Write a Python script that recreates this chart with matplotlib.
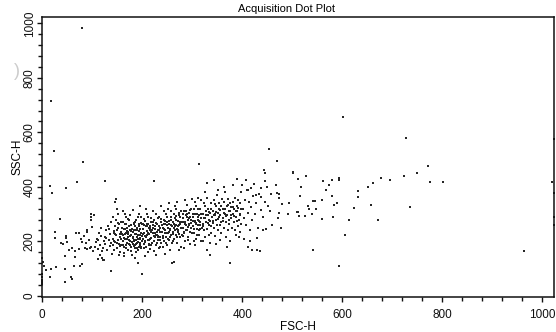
import matplotlib
matplotlib.use('Agg')
import matplotlib.pyplot as plt
from matplotlib.ticker import MultipleLocator

plt.rcParams['font.family'] = ['Liberation Sans', 'DejaVu Sans']

# (FSC-H, SSC-H) events
cluster_pts = [
    (102, 165), (105, 180), (108, 196), (110, 210), (112, 172), (114, 230), (116, 188), (118, 250),
    (104, 298), (119, 140), (111, 205), (117, 220),
    (121, 175), (123, 200), (125, 215), (126, 190), (128, 240), (130, 168), (131, 258), (133, 205),
    (135, 182), (136, 228), (138, 272), (139, 155), (122, 132), (127, 212), (134, 246), (137, 195),
    (141, 185), (142, 210), (143, 232), (144, 168), (145, 255), (146, 198), (147, 280), (148, 222),
    (149, 176), (150, 240), (151, 205), (152, 300), (153, 190), (154, 262), (155, 215), (156, 160),
    (157, 235), (158, 185), (159, 250), (146, 345), (150, 318), (153, 150), (158, 270), (142, 290),
    (155, 228), (147, 355),
    (161, 200), (162, 225), (163, 245), (164, 180), (165, 262), (166, 210), (167, 290), (168, 232),
    (169, 195), (170, 250), (171, 215), (172, 170), (173, 278), (174, 205), (175, 240), (176, 185),
    (177, 260), (178, 222), (179, 198), (161, 270), (163, 158), (165, 300), (167, 175), (169, 238),
    (171, 282), (173, 192), (175, 218), (177, 165), (179, 245), (162, 310), (166, 228), (170, 208),
    (174, 255), (178, 178), (172, 235), (176, 298), (164, 145), (168, 265),
    (181, 190), (182, 215), (183, 240), (184, 262), (185, 175), (186, 228), (187, 205), (188, 280),
    (189, 250), (190, 195), (191, 222), (192, 168), (193, 300), (194, 238), (195, 210), (196, 185),
    (197, 268), (198, 232), (199, 200), (181, 235), (183, 182), (185, 255), (187, 160), (189, 215),
    (191, 290), (193, 225), (195, 245), (197, 175), (199, 265), (182, 315), (184, 200), (186, 272),
    (188, 190), (190, 240), (192, 208), (194, 180), (196, 225), (198, 288), (180, 150), (185, 140),
    (192, 120), (196, 330), (188, 228), (194, 258), (199, 218), (183, 205), (189, 175), (195, 195),
    (201, 210), (202, 245), (203, 230), (204, 192), (205, 275), (206, 220), (207, 255), (208, 180),
    (209, 300), (210, 238), (211, 205), (212, 265), (213, 190), (214, 228), (215, 250), (216, 172),
    (217, 285), (218, 212), (219, 240), (201, 265), (203, 175), (205, 200), (207, 320), (209, 225),
    (211, 160), (213, 248), (215, 210), (217, 235), (219, 195), (204, 260), (208, 215), (212, 290),
    (216, 258), (200, 80), (206, 145), (214, 185), (218, 270), (210, 255),
    (221, 230), (222, 260), (223, 200), (224, 280), (225, 215), (226, 245), (227, 185), (228, 300),
    (229, 225), (230, 265), (231, 205), (232, 240), (233, 175), (234, 290), (235, 250), (236, 215),
    (237, 270), (238, 195), (239, 235), (221, 310), (223, 165), (225, 255), (227, 225), (229, 195),
    (231, 285), (233, 240), (235, 205), (237, 330), (239, 260), (224, 420), (228, 150), (232, 215),
    (236, 180), (222, 248), (230, 235),
    (241, 250), (242, 220), (243, 280), (244, 200), (245, 265), (246, 240), (247, 300), (248, 215),
    (249, 185), (250, 260), (251, 230), (252, 320), (253, 205), (254, 275), (255, 245), (256, 170),
    (257, 290), (258, 225), (259, 255), (241, 180), (243, 310), (245, 230), (247, 195), (249, 270),
    (251, 250), (253, 340), (255, 215), (257, 260), (259, 195), (246, 155), (250, 290), (254, 235),
    (258, 310), (244, 262), (259, 122),
    (261, 270), (262, 235), (263, 300), (264, 210), (265, 255), (266, 285), (267, 225), (268, 320),
    (269, 245), (270, 195), (271, 275), (272, 235), (273, 305), (274, 260), (275, 215), (276, 290),
    (277, 250), (278, 180), (279, 270), (261, 200), (263, 250), (265, 330), (267, 280), (269, 215),
    (271, 240), (273, 170), (275, 265), (277, 310), (279, 225), (264, 125), (270, 345), (274, 295),
    (268, 260),
    (281, 285), (282, 250), (283, 310), (284, 230), (285, 270), (286, 200), (287, 295), (288, 260),
    (289, 335), (290, 240), (291, 280), (292, 215), (293, 305), (294, 265), (295, 190), (296, 290),
    (297, 250), (298, 320), (299, 230), (281, 220), (283, 270), (285, 350), (287, 240), (289, 300),
    (291, 205), (293, 260), (295, 315), (297, 280), (299, 355), (284, 175), (290, 290),
    (301, 290), (302, 255), (303, 320), (304, 230), (305, 275), (306, 345), (307, 265), (308, 210),
    (309, 300), (310, 245), (311, 280), (312, 360), (313, 225), (314, 295), (315, 260), (316, 320),
    (317, 200), (318, 285), (319, 250), (302, 300), (304, 200), (306, 270), (308, 330), (310, 225),
    (312, 290), (314, 240), (316, 270), (318, 350), (305, 185), (311, 260),
    (321, 300), (322, 265), (323, 340), (324, 240), (325, 285), (326, 215), (327, 310), (328, 270),
    (329, 360), (330, 245), (331, 295), (332, 320), (333, 225), (334, 280), (335, 195), (336, 305),
    (337, 255), (338, 340), (339, 290), (322, 200), (326, 380), (330, 170), (334, 260), (338, 230),
    (329, 415), (335, 150),
    (341, 310), (342, 275), (343, 350), (344, 250), (345, 295), (346, 220), (347, 330), (348, 280),
    (349, 260), (350, 370), (351, 305), (352, 240), (353, 290), (354, 340), (355, 205), (356, 315),
    (357, 270), (358, 230), (359, 355), (343, 425), (348, 190), (352, 390), (356, 260), (346, 300),
    (361, 320), (362, 285), (363, 345), (364, 250), (365, 300), (366, 380), (367, 270), (368, 215),
    (369, 330), (370, 295), (371, 240), (372, 355), (373, 310), (374, 265), (375, 200), (376, 340),
    (377, 285), (378, 325), (379, 250), (364, 400), (370, 180), (375, 120),
    (381, 300), (382, 345), (383, 270), (384, 320), (385, 240), (386, 360), (387, 290), (388, 225),
    (389, 330), (390, 310), (391, 255), (392, 350), (393, 280), (394, 215), (395, 340), (396, 300),
    (397, 265), (398, 380), (382, 405), (390, 430), (396, 235), (399, 407),
    (401, 320), (403, 285), (405, 350), (407, 260), (409, 390), (411, 305), (413, 345), (415, 240),
    (417, 325), (419, 280), (421, 365), (423, 410), (425, 300), (427, 340), (431, 250), (433, 375),
    (437, 315), (441, 290), (445, 345), (449, 400), (455, 310), (459, 260), (404, 210), (412, 180),
    (420, 170), (430, 170), (441, 240), (448, 245), (457, 375), (452, 330), (446, 420), (438, 395),
    (429, 212), (416, 200), (407, 425), (411, 389), (418, 395), (427, 370), (437, 362), (436, 165),
    (443, 463), (445, 452), (467, 407), (469, 376), (474, 358),
]

# second pass over the densest part of the cloud
dense_pts = [
    (143, 203), (146, 226), (149, 193), (152, 248), (155, 183), (157, 210), (159, 228), (161, 186),
    (144, 238), (151, 266), (163, 213), (166, 247), (168, 188), (171, 226), (173, 258), (176, 203),
    (178, 238), (181, 211), (183, 268), (186, 187), (188, 243), (191, 199), (193, 263), (196, 214),
    (198, 178), (202, 227), (204, 283), (206, 198), (209, 262), (211, 229), (213, 206), (216, 243),
    (218, 186), (221, 271), (223, 219), (226, 232), (228, 266), (231, 221), (233, 256), (236, 236),
    (238, 283), (241, 214), (243, 246), (246, 273), (248, 232), (251, 208), (253, 262), (256, 241),
    (258, 280), (261, 226), (263, 262), (266, 243), (268, 292), (271, 258), (273, 227), (276, 272),
    (278, 248), (281, 301), (283, 236), (286, 262), (288, 312), (291, 254), (293, 286), (296, 236),
    (298, 268), (301, 274), (303, 246), (306, 302), (308, 268), (311, 318), (313, 276), (316, 246),
    (318, 302), (321, 258), (323, 284), (326, 330), (328, 296), (331, 266), (333, 308), (336, 276),
    (338, 318), (341, 266), (343, 296), (346, 338), (348, 308), (351, 282), (353, 318), (356, 296),
    (358, 328), (361, 276), (363, 305), (366, 318), (368, 292), (371, 334), (373, 278), (376, 312),
    (378, 298), (381, 326), (384, 292), (387, 312), (389, 274), (392, 322), (395, 296), (398, 318),
]

left_pts = [
    (15, 404), (19, 376), (47, 395), (69, 417), (126, 422), (35, 281), (25, 236), (47, 221),
    (47, 212), (26, 212), (38, 193), (41, 191), (50, 199), (53, 169), (59, 175), (66, 163),
    (65, 142), (45, 147), (67, 232), (74, 232), (77, 209), (79, 196), (73, 171), (89, 236),
    (89, 242), (98, 301), (98, 290), (97, 279), (99, 254), (85, 176), (90, 172), (95, 175),
    (97, 178), (87, 193), (79, 117), (75, 108), (45, 98), (46, 52), (57, 71), (59, 62),
    (28, 105), (17, 98), (3, 110), (7, 95), (16, 71), (0, 71), (0, 52), (0, 60), (0, 45),
    (0, 80), (0, 140), (64, 110), (112, 135), (120, 166), (123, 132), (138, 93), (115, 150),
    (2, 125), (93, 205), (83, 220),
]

tail_pts = [
    (501, 455), (512, 430), (527, 440), (517, 401), (516, 367), (494, 340), (479, 336), (474, 373),
    (473, 305), (471, 286), (477, 250), (491, 300), (511, 309), (514, 293), (526, 293), (532, 330),
    (534, 318), (541, 348), (539, 300), (547, 318), (542, 167), (559, 352), (559, 281), (562, 422),
    (567, 389), (574, 407), (580, 424), (579, 367), (584, 332), (589, 340), (582, 291), (593, 432),
    (593, 425), (594, 110), (605, 222), (614, 278), (623, 322), (632, 385), (632, 363), (652, 399),
    (662, 413), (657, 335), (672, 279), (677, 434), (695, 425), (723, 440), (735, 326), (749, 452),
    (772, 478), (775, 418), (802, 418), (964, 165), (1020, 418), (1023, 378), (1023, 291),
    (1023, 260), (1023, 576), (501, 452), (509, 308), (545, 348),
]

stray_pts = [
    (79, 983), (17, 715), (23, 530), (81, 492), (313, 484), (453, 538), (470, 495), (601, 656),
    (727, 578), (224, 422),
]

all_pts = cluster_pts + dense_pts + left_pts + tail_pts + stray_pts
fsc = [p[0] for p in all_pts]
ssc = [p[1] for p in all_pts]

fig = plt.figure(figsize=(5.56, 3.32), dpi=100)
ax = fig.add_axes([42 / 556, 35 / 332, 512 / 556, 280 / 332])

ax.scatter(fsc, ssc, s=2.8, marker='s', color='#262626', linewidths=0, clip_on=False)

ax.set_xlim(0, 1023)
ax.set_ylim(-4, 1023)
ax.xaxis.set_major_locator(MultipleLocator(200))
ax.xaxis.set_minor_locator(MultipleLocator(40))
ax.yaxis.set_major_locator(MultipleLocator(200))
ax.yaxis.set_minor_locator(MultipleLocator(40))
ax.tick_params(which='both', direction='out', width=1, colors='#111111', labelsize=8.5)
ax.tick_params(which='major', length=3.5)
ax.tick_params(which='minor', length=2.8)
ax.tick_params(axis='x', pad=5)
ax.tick_params(axis='y', pad=1)
for lab in ax.get_yticklabels():
    lab.set_rotation(90)
    lab.set_va('center')

for sp in ax.spines.values():
    sp.set_linewidth(1.1)
    sp.set_color('#111111')

ax.set_xlabel('FSC-H', fontsize=8.5, labelpad=0)
ax.set_ylabel('SSC-H', fontsize=8.5, labelpad=0.5)
fig.text(287 / 556, 1 - 9 / 332, 'Acquisition Dot Plot', fontsize=8, ha='center', va='center')

# faint scan mark left of the y axis
fig.text(17 / 556, 1 - 72 / 332, ')', fontsize=13, color='#cccccc', ha='center', va='center')

fig.savefig('out.png', dpi=100)
